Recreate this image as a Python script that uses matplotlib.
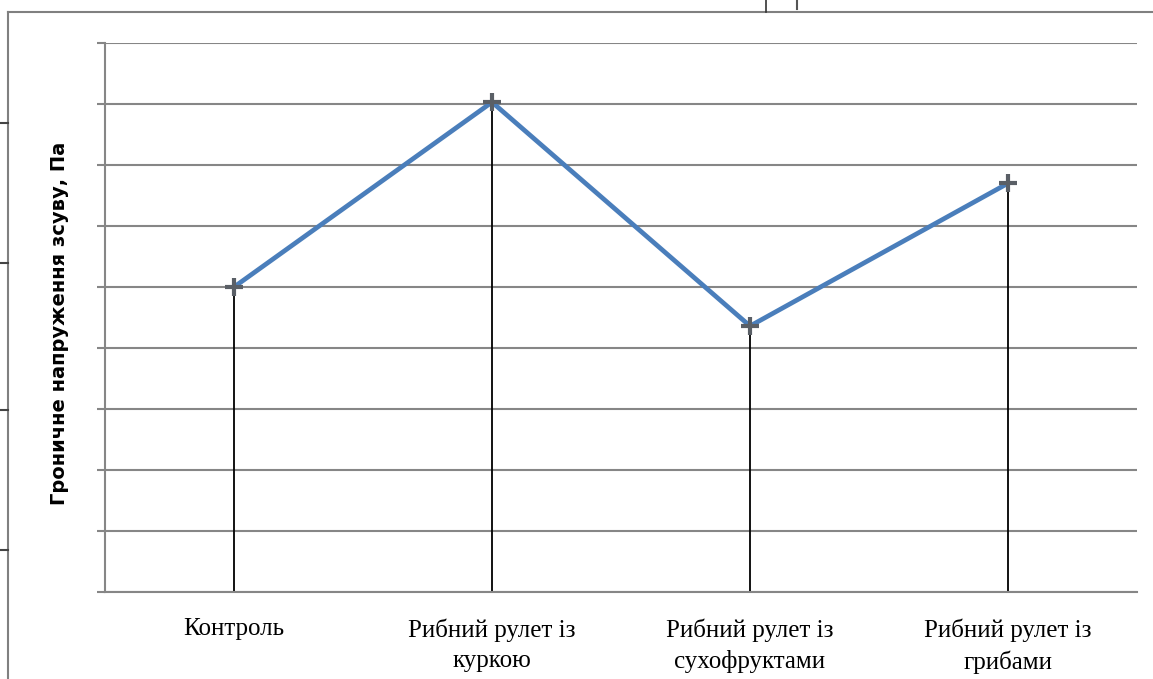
import matplotlib.pyplot as plt
from matplotlib.lines import Line2D

# data (no y tick labels, arbitrary scale of 9 grid steps)
categories = ['Контроль', 'Рибний рулет із\nкуркою',
              'Рибний рулет із\nсухофруктами', 'Рибний рулет із\nгрибами']
values = [5.0, 8.03, 4.36, 6.70]
y_ticks = list(range(0, 10))

fig = plt.figure(figsize=(11.53, 6.79), dpi=100)
ax = fig.add_axes([0.0911, 0.1281, 0.895, 0.8086])

x = list(range(len(categories)))

# drop lines from points down to the axis
ax.vlines(x, 0, values, color='black', lw=1.3, zorder=2)

# the series line with + markers
ax.plot(x, values, color='#4a7ebb', lw=3.4, zorder=3)
ax.plot(x, values, ls='none', marker='+', ms=13, mew=3, color='#5a5f66', zorder=4)

ax.set_xlim(-0.5, len(categories) - 0.5)
ax.set_ylim(0, 9)
ax.set_yticks(y_ticks)
ax.set_yticklabels([])
ax.yaxis.grid(True, color='#868686', lw=1.5)
ax.set_axisbelow(True)
ax.tick_params(axis='y', length=6, width=1.5, color='#868686', direction='out')

ax.set_xticks(x)
ax.set_xticklabels(categories, family='Liberation Serif', fontsize=18, linespacing=1.45)
ax.tick_params(axis='x', length=0, pad=19)

for side in ['top', 'right']:
    ax.spines[side].set_visible(False)
ax.spines['left'].set_color('#868686')
ax.spines['left'].set_linewidth(1.5)
ax.spines['bottom'].set_color('#868686')
ax.spines['bottom'].set_linewidth(1.5)

ax.set_ylabel('Гроничне напруження зсуву, Па', family='DejaVu Sans',
              fontweight='bold', fontsize=14)
ax.yaxis.set_label_coords(-0.035, 0.49)

# page frame around the chart (outer border of the original screenshot)
W, H = 1153, 679
def fline(x0, y0, x1, y1, **kw):
    fig.add_artist(Line2D([x0 / W, x1 / W], [1 - y0 / H, 1 - y1 / H],
                          transform=fig.transFigure, **kw))

fline(8, 12, W, 12, color='#808080', lw=1.5)
fline(8, 12, 8, H, color='#808080', lw=1.5)
fline(766, 0, 766, 12, color='#333333', lw=1.2)
fline(797, 0, 797, 9, color='#555555', lw=1.5)
for ty in [123, 263, 410, 550]:
    fline(0, ty, 8, ty, color='#444444', lw=1.5)

fig.savefig('out.png', dpi=100)
